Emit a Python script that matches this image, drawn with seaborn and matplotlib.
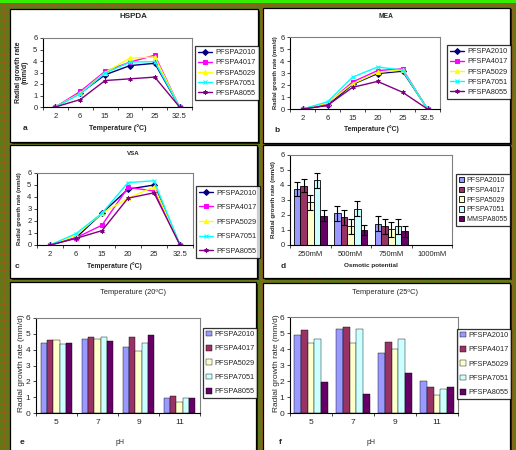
import numpy as np
import pandas as pd
import matplotlib
matplotlib.use("Agg")
import matplotlib.pyplot as plt
from matplotlib.patches import Rectangle
import seaborn as sns

W, H = 516, 450

# ---------------- data ----------------
temps = ['2', '6', '15', '20', '25', '32.5']
strains = ['PFSPA2010', 'PFSPA4017', 'PFSPA5029', 'PFSPA7051', 'PFSPA8055']
hspda = [[0, 1.2, 2.8, 3.6, 3.8, 0],
         [0, 1.35, 3.1, 3.9, 4.5, 0],
         [0, 1.2, 3.0, 4.25, 4.35, 0],
         [0, 1.15, 2.95, 3.9, 3.95, 0],
         [0, 0.65, 2.3, 2.45, 2.6, 0]]
mea = [[0, 0.3, 2.05, 2.95, 3.15, 0],
       [0, 0.45, 2.25, 3.2, 3.35, 0],
       [0, 0.5, 2.1, 3.05, 3.25, 0],
       [0, 0.6, 2.65, 3.5, 3.25, 0],
       [0, 0.3, 1.8, 2.3, 1.4, 0]]
vsa = [[0, 0.6, 2.65, 4.65, 5.0, 0],
       [0, 0.6, 1.65, 4.8, 4.5, 0],
       [0, 0.8, 2.65, 3.9, 4.85, 0],
       [0, 0.95, 2.65, 5.2, 5.35, 0],
       [0, 0.55, 1.2, 3.9, 4.35, 0]]
osm_cats = ['250mM', '500mM', '750mM', '1000mM']
osm_strains = ['PFSPA2010', 'PFSPA4017', 'PFSPA5029', 'PFSPA7051', 'MMSPA8055']
osm = [[3.75, 2.1, 1.4, 0],
       [3.95, 1.85, 1.25, 0],
       [2.85, 1.25, 1.05, 0],
       [4.3, 2.4, 1.25, 0],
       [1.95, 1.0, 0.9, 0]]
osm_err = [[0.48, 0.5, 0.5, 0],
           [0.43, 0.5, 0.5, 0],
           [0.5, 0.5, 0.5, 0],
           [0.47, 0.5, 0.5, 0],
           [0.35, 0.33, 0.35, 0]]
ph = ['5', '7', '9', '11']
ph20 = [[4.45, 4.7, 4.2, 0.95],
        [4.6, 4.8, 4.8, 1.1],
        [4.6, 4.65, 3.9, 0.7],
        [4.35, 4.8, 4.4, 0.95],
        [4.4, 4.55, 4.9, 0.95]]
ph25 = [[4.9, 5.25, 3.75, 2.0],
        [5.2, 5.35, 4.45, 1.6],
        [4.4, 4.4, 4.0, 1.15],
        [4.6, 5.25, 4.6, 1.5],
        [1.95, 1.2, 2.5, 1.65]]

line_colors = ['#000080', '#FF00FF', '#FFFF00', '#00FFFF', '#800080']
line_markers = ['D', 's', '^', 'x', (6, 2, 0)]
bar_colors = ['#9999FF', '#993366', '#FFFFCC', '#CCFFFF', '#660066']

# ---------------- setup ----------------
sns.set_style('white')
plt.rcParams['font.family'] = ['Liberation Sans', 'DejaVu Sans']
plt.rcParams['hatch.linewidth'] = 1.2

fig = plt.figure(figsize=(W / 100, H / 100), dpi=100)
fig.patch.set_facecolor('#5f7818')


def fx(x):
    return x / W


def fy(y):
    return 1 - y / H


def fpos(x, y):
    return (fx(x), fy(y))


def rect_px(x0, y0, x1, y1, **kw):
    r = Rectangle((fx(x0), fy(y1)), (x1 - x0) / W, (y1 - y0) / H,
                  transform=fig.transFigure, **kw)
    fig.patches.append(r)
    return r


# patterned background + bright top stripe
rect_px(0, 0, W, H, facecolor='#5f7818', edgecolor='#8a6418', hatch='++',
        lw=0, zorder=-10)
rect_px(0, 0, W, 3, facecolor='#33ee00', edgecolor='none', zorder=-9)

# white panel boxes
panels = [(10, 9, 258, 142), (263, 8, 510, 143),
          (10, 145, 257, 278), (263, 145, 510, 278),
          (10, 282, 256, 455), (263, 283, 510, 455)]
for (x0, y0, x1, y1) in panels:
    rect_px(x0 + 1.5, y0 + 1.5, x1 + 1.5, y1 + 1.5, facecolor='#222222',
            edgecolor='none', zorder=-8)
    rect_px(x0, y0, x1, y1, facecolor='white', edgecolor='black', lw=0.9,
            zorder=-7)


def add_ax(l, r, t, b):
    return fig.add_axes([fx(l), fy(b), (r - l) / W, (b - t) / H])


def style_axes(ax, ncat, fs=5.5):
    ax.set_ylim(0, 6)
    ax.set_yticks(range(7))
    ax.set_xlim(-0.5, ncat - 0.5)
    ax.set_facecolor('white')
    ax.grid(False)
    for s in ['left', 'bottom']:
        ax.spines[s].set_color('black')
        ax.spines[s].set_linewidth(0.8)
    for s in ['top', 'right']:
        ax.spines[s].set_color('#808080')
        ax.spines[s].set_linewidth(0.8)
    ax.tick_params(axis='y', direction='out', length=2.5, width=0.6,
                   labelsize=fs, pad=1.5, left=True)
    ax.tick_params(axis='x', which='major', length=0, labelsize=fs, pad=4)
    ax.set_xticks(np.arange(-0.5, ncat), minor=True)
    ax.tick_params(axis='x', which='minor', direction='out', length=2.5,
                   width=0.6, bottom=True)


def long_df(cats, names, vals):
    rows = []
    for n, v in zip(names, vals):
        for c, y in zip(cats, v):
            rows.append({'cat': c, 'val': y, 'strain': n})
    return pd.DataFrame(rows)


def set_labels(ax, xlabel, xl_pos, ylabel, yl_pos, fs_x, fs_y, bold=True):
    w = 'bold' if bold else 'normal'
    ax.set_xlabel(xlabel, fontsize=fs_x, fontweight=w)
    ax.set_ylabel(ylabel, fontsize=fs_y, fontweight=w, linespacing=1.0)
    ax.xaxis.set_label_coords(*fpos(*xl_pos), transform=fig.transFigure)
    ax.yaxis.set_label_coords(*fpos(*yl_pos), transform=fig.transFigure)
    ax.xaxis.label.set_va('center')
    ax.yaxis.label.set_va('center')


def line_panel(box, vals, title, title_pos, title_fs, xl_pos, ylabel, yl_pos,
               fs_x, fs_y, leg_center, leg_spacing, letter, letter_pos):
    ax = add_ax(*box)
    df = long_df(temps, strains, vals)
    sns.pointplot(data=df, x='cat', y='val', hue='strain', order=temps,
                  hue_order=strains, palette=line_colors, markers=line_markers,
                  linestyles='-', errorbar=None, markersize=3, linewidth=1.0,
                  ax=ax)
    style_axes(ax, len(temps))
    set_labels(ax, 'Temperature (\u00b0C)', xl_pos, ylabel, yl_pos, fs_x, fs_y)
    fig.text(*fpos(*title_pos), title, fontsize=title_fs, fontweight='bold',
             ha='center', va='center')
    fig.text(*fpos(*letter_pos), letter, fontsize=6, fontweight='bold',
             ha='center', va='center')
    sns.move_legend(ax, 'center', bbox_to_anchor=fpos(*leg_center),
                    bbox_transform=fig.transFigure, title=None, frameon=True,
                    fancybox=False, fontsize=5.3, handlelength=1.9,
                    handletextpad=0.4, labelspacing=leg_spacing,
                    borderpad=0.45, borderaxespad=0)
    leg = ax.get_legend()
    leg.get_frame().set_edgecolor('black')
    leg.get_frame().set_linewidth(0.9)
    return ax


line_panel((43, 192, 38, 107), hspda, 'HSPDA', (133, 17), 5.8, (118, 128),
           'Radial growth rate\n(mm/d)', (22, 72), 5.1, 5.0, (227, 73), 0.42,
           'a', (25, 129))
line_panel((290, 440, 37, 109), mea, 'MEA', (386, 17), 4.8, (371, 129),
           'Radial growth rate (mm/d)', (275, 73), 4.9, 4.2, (479, 72), 0.42,
           'b', (277, 130))
line_panel((37, 193, 173, 245), vsa, 'VSA', (133, 153), 4.4, (114, 266),
           'Radial growth rate (mm/d)', (20, 209), 4.9, 4.2, (228, 222), 1.0,
           'c', (17, 266))


def bar_panel(box, cats, names, vals, width, xlabel, xl_pos, yl_pos, fs_x,
              fs_y, bold, leg_center, leg_spacing, letter, letter_pos,
              err=None, title=None, title_pos=None, tick_fs=5.5, edge=0.6,
              leg_fs=5.3):
    ax = add_ax(*box)
    df = long_df(cats, names, vals)
    sns.barplot(data=df, x='cat', y='val', hue='strain', order=cats,
                hue_order=names, palette=bar_colors, width=width,
                edgecolor='black', linewidth=edge, errorbar=None, ax=ax,
                saturation=1)
    if err is not None:
        for cont, e, v in zip(ax.containers, err, vals):
            xs = [b.get_x() + b.get_width() / 2 for b in cont]
            hs = [b.get_height() for b in cont]
            mask = [val > 0 for val in v]
            ax.errorbar([x for x, m in zip(xs, mask) if m],
                        [h for h, m in zip(hs, mask) if m],
                        yerr=[ee for ee, m in zip(e, mask) if m],
                        fmt='none', ecolor='black', elinewidth=0.8,
                        capsize=2.2, capthick=0.8)
    style_axes(ax, len(cats), fs=tick_fs)
    set_labels(ax, xlabel, xl_pos, 'Radial growth rate (mm/d)', yl_pos, fs_x,
               fs_y, bold=bold)
    if title:
        fig.text(*fpos(*title_pos), title, fontsize=5.4, ha='center',
                 va='center')
    fig.text(*fpos(*letter_pos), letter, fontsize=6, fontweight='bold',
             ha='center', va='center')
    sns.move_legend(ax, 'center', bbox_to_anchor=fpos(*leg_center),
                    bbox_transform=fig.transFigure, title=None, frameon=True,
                    fancybox=False, fontsize=leg_fs, handlelength=0.8,
                    handleheight=0.8, handletextpad=0.3,
                    labelspacing=leg_spacing, borderpad=0.35, borderaxespad=0)
    leg = ax.get_legend()
    leg.get_frame().set_edgecolor('black')
    leg.get_frame().set_linewidth(0.9)
    return ax


bar_panel((290, 452, 155, 245), osm_cats, osm_strains, osm, 0.82,
          'Osmotic potential', (371, 266), (273, 200), 4.6, 4.5, True,
          (483, 200), 0.4, 'd', (283, 266), err=osm_err, leg_fs=5.0)
bar_panel((36, 200, 318, 413), ph, strains, ph20, 0.77, 'pH', (120, 442),
          (22, 363), 5.0, 6.0, False, (230, 363), 0.95, 'e', (22, 442),
          title='Temperature (20\u00baC)', title_pos=(133, 293), tick_fs=6,
          edge=0.3)
bar_panel((290, 458, 317, 413), ph, strains, ph25, 0.8, 'pH', (371, 442),
          (276, 363), 5.0, 6.0, False, (484, 364), 0.95, 'f', (280, 442),
          title='Temperature (25\u00baC)', title_pos=(385, 292), tick_fs=6,
          edge=0.3)

fig.savefig('out.png', dpi=100, facecolor=fig.get_facecolor())
